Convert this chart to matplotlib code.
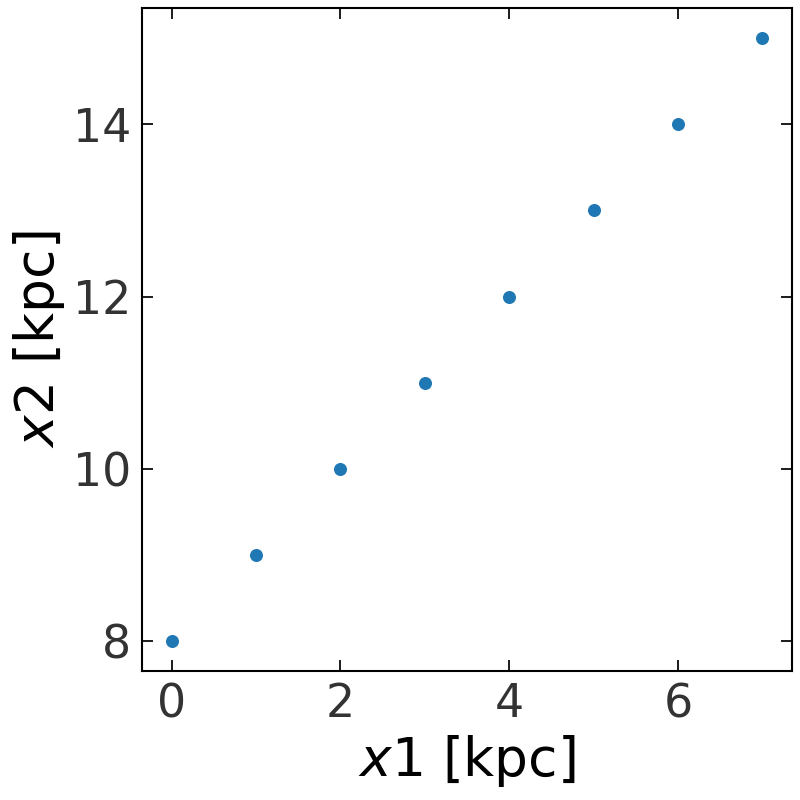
import matplotlib
matplotlib.use('Agg')
import matplotlib.pyplot as plt

# datos
x1 = [0, 1, 2, 3, 4, 5, 6, 7]
x2 = [8, 9, 10, 11, 12, 13, 14, 15]

fig, ax = plt.subplots(figsize=(8, 8), dpi=100)
ax.scatter(x1, x2, s=70, color='#1f77b4', zorder=3)

ax.set_xlabel(r'$x1$ [kpc]', fontsize=38.5, labelpad=4)
ax.set_ylabel(r'$x2$ [kpc]', fontsize=38.5, labelpad=4)

ax.set_xticks([0, 2, 4, 6])
ax.set_yticks([8, 10, 12, 14])
ax.tick_params(axis='both', which='both', direction='in', top=True, right=True,
               length=8, width=1.25, labelsize=33, labelcolor='#333333', pad=8)
for s in ax.spines.values():
    s.set_linewidth(1.5)

fig.subplots_adjust(left=0.1775, right=0.99, top=0.99, bottom=0.161)
plt.savefig('out.png', dpi=100)
